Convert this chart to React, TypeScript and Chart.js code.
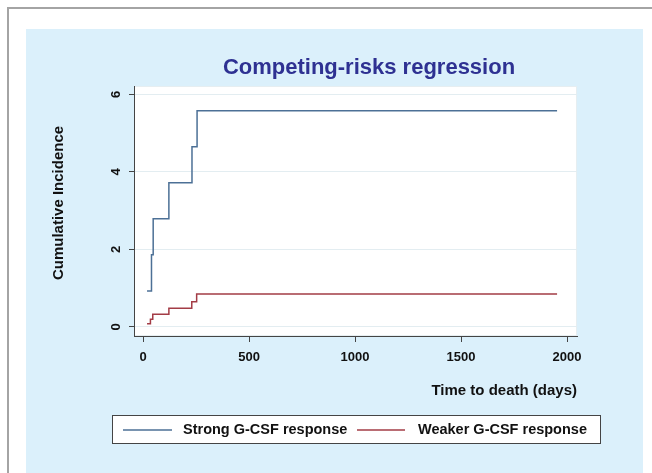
import React, { useEffect, useRef } from "react";
import { Chart, registerables } from "chart.js";

Chart.register(...registerables);

const TITLE = "Competing-risks regression";
const X_TITLE = "Time to death (days)";
const Y_TITLE = "Cumulative Incidence";
const SERIES_NAMES = ["Strong G-CSF response", "Weaker G-CSF response"];
const strongTimes = [19, 40, 48, 122, 231, 255, 1953];
const strongValues = [0.93, 1.86, 2.79, 3.72, 4.65, 5.58, 5.58];
const weakTimes = [19, 35, 46, 122, 230, 253, 1953];
const weakValues = [0.08, 0.2, 0.33, 0.48, 0.65, 0.85, 0.85];
const xTicks = [0, 500, 1000, 1500, 2000];
const yTicks = [0, 2, 4, 6];

const FONT = "'Liberation Sans', Arial, Helvetica, sans-serif";
const BLUE = "#4c7096";
const RED = "#a33c46";

const decorPlugin = {
  id: "decor",
  beforeDraw(chart: any) {
    const ctx = chart.ctx;
    const { width, height } = chart;
    ctx.save();
    ctx.fillStyle = "#ffffff";
    ctx.fillRect(0, 0, width, height);
    ctx.fillStyle = "#dbf0fb";
    ctx.fillRect(26, 29, 617, height - 29);
    ctx.strokeStyle = "#a4a4a4";
    ctx.lineWidth = 2;
    ctx.beginPath();
    ctx.moveTo(8, height);
    ctx.lineTo(8, 8);
    ctx.lineTo(width, 8);
    ctx.stroke();
    const a = chart.chartArea;
    ctx.fillStyle = "#ffffff";
    ctx.fillRect(a.left, a.top, a.right - a.left, a.bottom - a.top);
    ctx.strokeStyle = "#e6eef1";
    ctx.lineWidth = 1;
    ctx.strokeRect(a.left + 0.5, a.top + 0.5, a.right - a.left - 1, a.bottom - a.top - 1);
    ctx.restore();
  },
  afterDraw(chart: any) {
    const ctx = chart.ctx;
    ctx.save();
    // title
    ctx.fillStyle = "#2e3192";
    ctx.font = `bold 22px ${FONT}`;
    ctx.textAlign = "center";
    ctx.textBaseline = "alphabetic";
    ctx.fillText(TITLE, 369, 74);
    // y tick labels (rotated)
    const ys = chart.scales.y;
    ctx.fillStyle = "#111111";
    ctx.font = `bold 13px ${FONT}`;
    for (const t of ys.ticks) {
      const py = ys.getPixelForValue(t.value);
      ctx.save();
      ctx.translate(120, py);
      ctx.rotate(-Math.PI / 2);
      ctx.textAlign = "center";
      ctx.textBaseline = "alphabetic";
      ctx.fillText(String(t.value), 0, 0);
      ctx.restore();
    }
    // y title
    ctx.font = `bold 15px ${FONT}`;
    ctx.save();
    ctx.translate(63, 203);
    ctx.rotate(-Math.PI / 2);
    ctx.textAlign = "center";
    ctx.textBaseline = "alphabetic";
    ctx.fillText(Y_TITLE, 0, 0);
    ctx.restore();
    // x title
    ctx.textAlign = "right";
    ctx.textBaseline = "alphabetic";
    ctx.fillText(X_TITLE, 577, 395);
    // legend
    ctx.fillStyle = "#ffffff";
    ctx.fillRect(112, 415, 489, 28);
    ctx.strokeStyle = "#444444";
    ctx.lineWidth = 1;
    ctx.strokeRect(112.5, 415.5, 488, 28);
    const ds = chart.data.datasets;
    const items = [
      { x0: 123, x1: 172, tx: 183 },
      { x0: 357, x1: 405, tx: 418 },
    ];
    ctx.font = `bold 14.5px ${FONT}`;
    ctx.textAlign = "left";
    ctx.textBaseline = "middle";
    items.forEach((it, i) => {
      ctx.strokeStyle = ds[i].borderColor;
      ctx.lineWidth = 1.5;
      ctx.beginPath();
      ctx.moveTo(it.x0, 430);
      ctx.lineTo(it.x1, 430);
      ctx.stroke();
      ctx.fillStyle = "#111111";
      ctx.fillText(ds[i].label, it.tx, 430);
    });
    ctx.restore();
  },
};

export default function App() {
  const ref = useRef<HTMLCanvasElement | null>(null);
  useEffect(() => {
    if (!ref.current) return;
    const chart = new Chart(ref.current, {
      type: "line",
      data: {
        datasets: [
          {
            label: SERIES_NAMES[0],
            data: strongTimes.map((t, i) => ({ x: t, y: strongValues[i] })),
            borderColor: BLUE,
            borderWidth: 1.5,
            pointRadius: 0,
            stepped: "before",
            fill: false,
          },
          {
            label: SERIES_NAMES[1],
            data: weakTimes.map((t, i) => ({ x: t, y: weakValues[i] })),
            borderColor: RED,
            borderWidth: 1.5,
            pointRadius: 0,
            stepped: "before",
            fill: false,
          },
        ],
      },
      options: {
        responsive: false,
        animation: false,
        devicePixelRatio: 1,
        layout: { padding: { left: 0, top: 86, right: 75, bottom: 0 } },
        plugins: {
          legend: { display: false },
          title: { display: false },
          tooltip: { enabled: false },
        },
        scales: {
          x: {
            type: "linear",
            min: -42.5,
            max: 2047,
            afterBuildTicks: (s: any) => {
              s.ticks = xTicks.map((v) => ({ value: v }));
            },
            afterFit: (s: any) => {
              s.height = 137;
            },
            ticks: {
              font: { family: FONT, size: 13, weight: "bold" },
              color: "#111111",
              padding: 8,
              maxRotation: 0,
              minRotation: 0,
              autoSkip: false,
              callback: (v: any) => String(v),
            },
            grid: {
              drawOnChartArea: false,
              drawTicks: true,
              tickLength: 6,
              tickColor: "#444444",
              tickWidth: 1,
            },
            border: { display: true, color: "#444444", width: 1 },
          },
          y: {
            type: "linear",
            min: -0.233,
            max: 6.2155,
            afterBuildTicks: (s: any) => {
              s.ticks = yTicks.map((v) => ({ value: v }));
            },
            afterFit: (s: any) => {
              s.width = 134;
            },
            ticks: { display: false },
            grid: {
              color: "#e3edf1",
              lineWidth: 1,
              drawTicks: true,
              tickLength: 5,
              tickColor: "#444444",
              tickWidth: 1,
            },
            border: { display: true, color: "#444444", width: 1 },
          },
        },
      },
      plugins: [decorPlugin],
    } as any);
    return () => chart.destroy();
  }, []);
  return (
    <div style={{ position: "absolute", left: 0, top: 0, width: 652, height: 473 }}>
      <canvas ref={ref} width={652} height={473} style={{ display: "block" }} />
    </div>
  );
}
